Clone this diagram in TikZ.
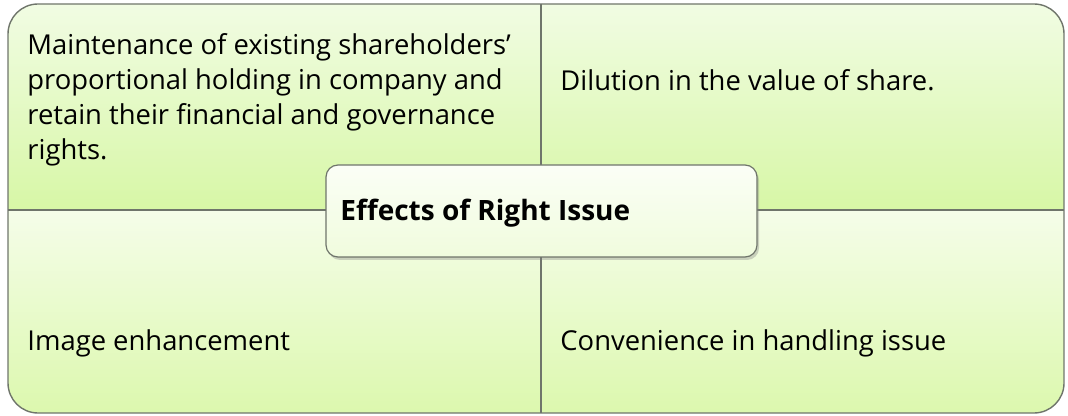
\documentclass[tikz,border=0pt]{standalone}
\usepackage{fontspec}
\setmainfont{Open Sans}
\usetikzlibrary{shadows}
\definecolor{paleTop}{HTML}{F1FCE3}
\definecolor{greenLow}{HTML}{D7F7A6}
\definecolor{paleLow}{HTML}{F5FDE9}
\definecolor{greenEnd}{HTML}{DCF8AE}
\definecolor{lineGray}{HTML}{6F756B}
\begin{document}
\begin{tikzpicture}[
    x=0.5pt,
    y=-0.5pt,
    every node/.style={inner sep=0pt, font=\fontsize{13.7}{17.5}\selectfont},
    divider/.style={draw=lineGray, line width=1.2pt},
    item/.style={anchor=base west, align=left},
    centre/.style={draw=lineGray, line width=0.6pt, rounded corners=6pt,
        top color=white!60!paleLow, bottom color=paleLow!80!greenEnd,
        minimum width=215.5pt, minimum height=46pt,
        drop shadow={shadow xshift=1pt, shadow yshift=-1.5pt, opacity=0.35}}
]
\useasboundingbox (0,0) rectangle (1068,416);
% four quarters, clipped to the rounded frame
\begin{scope}
  \clip[rounded corners=15pt] (8,4) rectangle (1064,413);
  \shade[top color=paleTop, bottom color=greenLow] (8,4) rectangle (1064,210);
  \shade[top color=paleLow, bottom color=greenEnd] (8,210) rectangle (1064,413);
\end{scope}
\draw[lineGray, line width=0.7pt, rounded corners=15pt] (8,4) rectangle (1064,413);
\coordinate (n) at (541,4);
\coordinate (s) at (541,413);
\coordinate (w) at (8,210);
\coordinate (e) at (1064,210);
\path[divider]
  (n) edge (s)
  (w) edge (e);
% texts
\node[item] (keep) at (27,160) {Maintenance of existing shareholders’\\proportional holding in company and\\retain their financial and governance\\rights.};
\node[item] (dilute) at (560,91) {Dilution in the value of share.};
\node[item] (image) at (27,350) {Image enhancement};
\node[item] (handle) at (560,350) {Convenience in handling issue};
\node[centre] (effects) at (541.5,211) {};
\node[item, font=\bfseries\fontsize{14}{17.5}\selectfont] (title) at (340,221) {Effects of Right Issue};
\end{tikzpicture}
\end{document}
